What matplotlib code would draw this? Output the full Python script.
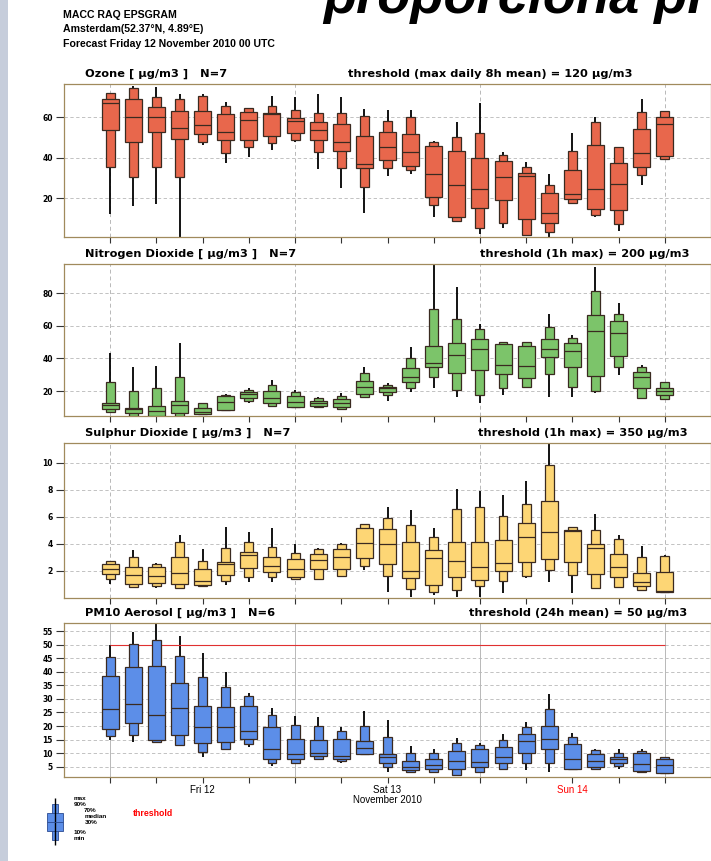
import matplotlib
matplotlib.use('Agg')
import matplotlib.pyplot as plt
from matplotlib.patches import Rectangle
import numpy as np

W, H = 711, 861

# forecast lead time in hours (3-hourly from Fri 12 Nov 2010 00 UTC)
hours = np.arange(0, 73, 3)
day_starts = [0, 24, 48, 72]
day_mid = [12, 36, 60]
day_labels = ['Fri 12', 'Sat 13', 'Sun 14']
day_colors = ['black', 'black', 'red']

# ---- Ozone -----------------------------------------------------------
o3_max = [71.7, 75.3, 74.6, 71.2, 71.2, 67.6, 64.6, 70.4, 69.7, 71.2, 69.7, 64.0, 63.5,
          63.5, 48.1, 57.7, 67.1, 42.9, 37.9, 31.7, 51.9, 60.2, 45.0, 68.7, 63.1]
o3_p90 = [71.7, 74.5, 70.0, 68.7, 70.4, 65.6, 64.6, 65.6, 63.5, 62.1, 61.8, 60.7, 58.0,
          59.8, 47.8, 50.3, 51.9, 41.2, 35.5, 26.7, 43.4, 57.4, 45.0, 62.6, 63.1]
o3_p70 = [68.7, 68.7, 65.1, 63.1, 63.1, 61.3, 62.6, 61.8, 59.3, 57.7, 56.4, 50.6, 52.8,
          51.6, 45.7, 43.4, 39.6, 38.4, 32.5, 22.6, 33.8, 46.2, 37.4, 54.1, 60.2]
o3_med = [66.7, 59.8, 59.8, 54.4, 56.0, 52.4, 58.5, 61.3, 58.0, 53.6, 47.5, 36.8, 45.4,
          42.9, 31.9, 26.7, 24.4, 30.5, 31.0, 12.4, 21.8, 24.4, 27.2, 42.1, 56.4]
o3_p30 = [53.6, 47.5, 52.8, 49.0, 51.6, 48.6, 48.5, 50.6, 52.3, 48.6, 43.4, 34.7, 38.8,
          35.8, 20.7, 10.8, 14.9, 19.0, 9.5, 7.5, 19.5, 14.4, 14.1, 35.5, 40.7]
o3_p10 = [35.1, 30.2, 35.5, 30.2, 47.8, 42.4, 45.0, 47.0, 48.5, 42.9, 34.7, 25.6, 35.0,
          33.8, 16.5, 8.8, 5.3, 7.5, 1.7, 3.4, 17.4, 11.9, 7.0, 31.4, 39.1]
o3_min = [12.1, 16.2, 17.0, 1.0, 46.2, 37.4, 40.1, 43.7, 47.8, 34.2, 25.1, 12.4, 30.9,
          31.7, 10.8, 8.8, 2.5, 5.0, 1.4, 0.9, 16.9, 10.5, 3.9, 26.7, 39.1]

# ---- Nitrogen dioxide ------------------------------------------------
no2_max = [43.2, 34.6, 35.6, 49.7, 12.6, 18.3, 21.7, 26.8, 20.7, 16.6, 18.7, 35.0, 25.2,
           46.9, 98.0, 83.7, 61.2, 50.3, 50.3, 67.3, 54.4, 96.0, 74.3, 36.0, 25.8]
no2_p90 = [25.4, 20.1, 22.1, 28.5, 12.6, 17.7, 20.7, 23.7, 19.6, 15.5, 17.0, 30.9, 23.7,
           40.1, 70.2, 64.3, 57.9, 50.3, 50.3, 59.6, 52.4, 81.4, 67.3, 35.0, 25.8]
no2_p70 = [12.5, 9.9, 11.1, 14.0, 9.9, 16.7, 19.6, 20.1, 17.2, 14.0, 15.0, 26.4, 22.3,
           34.0, 47.9, 49.7, 52.0, 48.7, 47.9, 51.8, 49.3, 66.7, 63.2, 31.9, 22.1]
no2_med = [11.5, 8.8, 7.9, 11.5, 7.4, 13.6, 18.0, 15.5, 13.1, 12.5, 12.5, 22.8, 22.1,
           28.9, 37.1, 42.2, 45.6, 36.0, 35.4, 45.8, 44.6, 56.9, 55.5, 28.9, 20.1]
no2_p30 = [8.8, 6.4, 4.9, 6.4, 5.8, 8.5, 15.5, 12.5, 10.5, 11.1, 10.1, 18.0, 19.6,
           25.4, 35.0, 30.9, 33.0, 30.3, 28.3, 41.1, 35.0, 29.3, 41.6, 21.7, 17.7]
no2_p10 = [7.4, 4.9, 4.9, 4.9, 5.8, 8.1, 14.1, 11.1, 10.1, 10.1, 9.0, 16.2, 17.7,
           22.1, 28.5, 20.8, 17.7, 22.1, 22.8, 30.3, 22.8, 20.1, 35.0, 16.0, 15.3]
no2_min = [7.4, 4.9, 4.9, 4.9, 5.3, 8.1, 12.5, 11.1, 10.1, 9.4, 9.0, 16.2, 14.1,
           19.6, 22.1, 16.1, 12.5, 17.6, 22.8, 16.6, 16.1, 19.0, 29.9, 16.0, 15.3]

# ---- Sulphur dioxide -------------------------------------------------
so2_max = [2.77, 3.56, 2.62, 4.62, 3.63, 5.21, 4.86, 5.16, 3.98, 3.68, 4.05, 5.46, 6.72,
           6.47, 5.16, 8.05, 7.93, 7.63, 8.62, 11.4, 5.28, 6.20, 4.62, 3.85, 3.19]
so2_p90 = [2.70, 3.00, 2.52, 4.12, 2.77, 3.68, 4.10, 3.75, 3.36, 3.63, 3.98, 5.46, 5.90,
           5.36, 4.49, 6.59, 6.72, 6.07, 6.96, 9.80, 5.23, 4.99, 4.35, 3.01, 3.11]
so2_p70 = [2.50, 2.32, 2.32, 3.01, 2.15, 2.69, 3.38, 3.06, 2.86, 3.23, 3.60, 5.16, 5.09,
           4.17, 3.56, 4.17, 4.17, 4.30, 5.53, 7.14, 5.04, 4.00, 3.26, 1.83, 1.90]
so2_med = [2.15, 1.70, 1.65, 1.83, 1.26, 2.52, 3.19, 2.40, 2.12, 2.81, 3.01, 4.05, 4.00,
           2.02, 2.94, 2.74, 2.32, 2.62, 4.47, 4.84, 4.96, 3.68, 2.32, 1.16, 0.54]
so2_p30 = [1.78, 1.01, 1.09, 1.01, 0.96, 1.70, 2.20, 1.90, 1.58, 2.12, 2.12, 2.94, 2.49,
           1.46, 0.96, 1.58, 1.33, 2.02, 2.69, 2.89, 2.69, 1.78, 1.53, 0.89, 0.47]
so2_p10 = [1.38, 0.84, 0.91, 0.72, 0.91, 1.26, 1.58, 1.58, 1.41, 1.41, 1.65, 2.37, 1.63,
           0.67, 0.47, 0.59, 0.91, 1.26, 1.63, 2.07, 1.70, 0.72, 0.84, 0.59, 0.47]
so2_min = [1.04, 0.84, 0.77, 0.72, 0.91, 0.96, 1.16, 1.21, 1.33, 1.33, 1.53, 2.07, 0.47,
           0.10, 0.22, 0.10, 0.10, 0.35, 1.46, 1.16, 0.35, 0.72, 0.84, 0.59, 0.47]

# ---- PM10 ------------------------------------------------------------
pm_max = [49.75, 54.7, 57.8, 53.3, 46.9, 39.9, 32.3, 26.5, 23.7, 23.5, 19.8, 25.6, 22.2,
          12.6, 11.7, 15.7, 13.6, 17.0, 21.6, 31.7, 17.5, 11.7, 11.7, 11.4, 8.6]
pm_p90 = [45.3, 50.4, 51.9, 45.7, 37.9, 34.3, 31.1, 24.1, 20.4, 20.0, 18.3, 20.1, 16.0,
          9.9, 9.9, 13.8, 13.0, 14.8, 19.8, 26.3, 16.0, 11.1, 9.9, 10.7, 8.6]
pm_p70 = [38.6, 41.7, 42.3, 35.8, 27.5, 27.2, 27.5, 19.5, 15.1, 14.8, 15.2, 14.4, 9.6,
          7.2, 7.8, 10.9, 11.4, 12.3, 16.9, 20.1, 13.3, 9.6, 8.6, 9.9, 7.7]
pm_med = [26.3, 28.1, 24.1, 26.5, 19.5, 19.5, 18.1, 11.7, 9.6, 10.2, 9.0, 12.0, 8.6,
          4.9, 5.6, 7.2, 6.8, 8.6, 14.4, 15.1, 7.8, 7.2, 7.8, 5.9, 5.8]
pm_p30 = [18.8, 21.0, 14.8, 16.7, 13.8, 14.0, 15.1, 8.0, 7.7, 8.9, 8.0, 9.5, 6.5,
          3.7, 4.0, 4.0, 4.9, 6.2, 9.9, 11.4, 4.1, 4.9, 6.4, 3.3, 2.5]
pm_p10 = [16.3, 16.7, 14.2, 13.0, 10.5, 11.7, 13.3, 6.2, 6.2, 7.7, 7.2, 9.5, 4.9,
          3.1, 3.1, 2.1, 3.1, 4.3, 6.4, 6.4, 4.1, 4.3, 5.3, 3.1, 2.5]
pm_min = [14.8, 14.0, 14.2, 12.6, 8.6, 11.1, 12.3, 5.3, 6.2, 7.7, 6.5, 9.5, 3.1,
          3.1, 3.1, 1.5, 2.5, 3.7, 3.7, 3.1, 4.1, 4.3, 4.3, 3.1, 2.5]
pm_threshold = 50

EDGE = '#3a2a20'
FRAME = '#a08a5c'
WIDE = 2.2     # hours, 30-70% box
NARROW = 1.15  # hours, 10-90% box
BOLD = 'DejaVu Sans'
PLAIN = 'Liberation Sans'


def px(x, y):
    return x / W, 1 - y / H


def draw_boxes(ax, x, vmin, p10, p30, med, p70, p90, vmax, color):
    vmin, p10, p30, med, p70, p90, vmax = map(np.asarray, (vmin, p10, p30, med, p70, p90, vmax))
    ax.vlines(x, vmin, vmax, color='black', lw=1.3, zorder=2)
    ax.bar(x, p90 - p10, bottom=p10, width=NARROW, color=color, edgecolor=EDGE, lw=0.9, zorder=3)
    ax.bar(x, p70 - p30, bottom=p30, width=WIDE, color=color, edgecolor=EDGE, lw=0.9, zorder=4)
    ax.hlines(med, x - WIDE / 2, x + WIDE / 2, color=EDGE, lw=0.9, zorder=5)


def setup_axes(ax, ylim, yticks, solid_vgrid=False):
    ax.set_xlim(-6, 78)
    ax.set_ylim(*ylim)
    ax.set_yticks(yticks)
    ax.set_yticklabels([str(t) for t in yticks], fontsize=5.5, fontweight='bold', family=BOLD)
    ax.set_xticks(np.arange(0, 73, 6))
    ax.set_xticklabels([])
    ax.tick_params(axis='y', direction='out', length=6, width=0.8, pad=2, color='#333333')
    ax.tick_params(axis='x', direction='out', length=4, width=0.8, color='#333333')
    ax.yaxis.grid(True, ls=(0, (4, 3)), color='#b8b8b8', lw=0.6)
    ax.set_axisbelow(True)
    for d in day_starts:
        ax.axvline(d, color='#b8b8b8', lw=0.7, ls='-' if solid_vgrid else (0, (4, 3)), zorder=1)
    for s in ax.spines.values():
        s.set_color(FRAME)
        s.set_linewidth(0.9)


fig = plt.figure(figsize=(W / 100, H / 100), dpi=100)
fig.patch.set_facecolor('white')

# slide background strip on the left edge
fig.patches.append(Rectangle((0, 0), 8 / W, 1, transform=fig.transFigure,
                             facecolor='#c6cddb', edgecolor='none', zorder=0))

# header
header = ['MACC RAQ EPSGRAM', 'Amsterdam(52.37°N, 4.89°E)',
          'Forecast Friday 12 November 2010 00 UTC']
for txt, y in zip(header, [15, 29, 44]):
    hx, hy = px(63, y)
    fig.text(hx, hy, txt, fontsize=7.6, fontweight='bold', va='center', family=PLAIN)
bx, by = px(323, 13)
fig.text(bx, by, 'proporciona pr', fontsize=39, fontweight='bold', style='italic',
         va='baseline', family=PLAIN)

panels = [
    dict(top=84, bot=237, stats=(o3_min, o3_p10, o3_p30, o3_med, o3_p70, o3_p90, o3_max),
         color='#e8674c', ylim=(0.8, 76.3), yticks=[20, 40, 60],
         left='Ozone [ µg/m3 ]   N=7', right='threshold (max daily 8h mean) = 120 µg/m3',
         right_x=633),
    dict(top=264, bot=416, stats=(no2_min, no2_p10, no2_p30, no2_med, no2_p70, no2_p90, no2_max),
         color='#7cc46a', ylim=(4.7, 98), yticks=[20, 40, 60, 80],
         left='Nitrogen Dioxide [ µg/m3 ]   N=7', right='threshold (1h max) = 200 µg/m3',
         right_x=690),
    dict(top=443, bot=598, stats=(so2_min, so2_p10, so2_p30, so2_med, so2_p70, so2_p90, so2_max),
         color='#fdd675', ylim=(0.0, 11.45), yticks=[2, 4, 6, 8, 10],
         left='Sulphur Dioxide [ µg/m3 ]   N=7', right='threshold (1h max) = 350 µg/m3',
         right_x=688),
    dict(top=623, bot=777, stats=(pm_min, pm_p10, pm_p30, pm_med, pm_p70, pm_p90, pm_max),
         color='#5c8ee8', ylim=(1.2, 58.0), yticks=list(range(5, 56, 5)),
         left='PM10 Aerosol [ µg/m3 ]   N=6', right='threshold (24h mean) = 50 µg/m3',
         right_x=687),
]

axes = []
for i, p in enumerate(panels):
    ax = fig.add_axes([64 / W, 1 - p['bot'] / H, (W - 64) / W, (p['bot'] - p['top']) / H])
    setup_axes(ax, p['ylim'], p['yticks'], solid_vgrid=(i == 3))
    draw_boxes(ax, hours, *p['stats'], color=p['color'])
    tx, ty = px(85, p['top'] - 10)
    fig.text(tx, ty, p['left'], fontsize=8.2, fontweight='bold', va='center', family=BOLD)
    tx, ty = px(p['right_x'], p['top'] - 10)
    fig.text(tx, ty, p['right'], fontsize=8.2, fontweight='bold', va='center', ha='right',
             family=BOLD)
    axes.append(ax)

ax = axes[-1]
ax.hlines(pm_threshold, hours[0], hours[-1], color='#e03030', lw=0.8, zorder=2)

# day labels under the last panel
for h, lbl, c in zip(day_mid, day_labels, day_colors):
    ax.annotate(lbl, xy=(h, 0), xycoords=('data', 'axes fraction'), xytext=(0, -13),
                textcoords='offset pixels', ha='center', va='center', fontsize=7, color=c,
                family=PLAIN)
ax.annotate('November 2010', xy=(day_mid[1], 0), xycoords=('data', 'axes fraction'),
            xytext=(0, -23), textcoords='offset pixels', ha='center', va='center',
            fontsize=7, family=PLAIN)

# key glyph
key = fig.add_axes([40 / W, 1 - 846 / H, 30 / W, 50 / H])
key.set_xlim(-1.5, 1.5)
key.set_ylim(0, 10)
key.axis('off')
key_vals = [0.3, 1.3, 3.0, 4.9, 6.6, 8.4, 9.7]
key.vlines(0, key_vals[0], key_vals[-1], color='black', lw=1.0)
key.bar(0, key_vals[5] - key_vals[1], bottom=key_vals[1], width=0.6, color='#5c8ee8',
        edgecolor='#2a4a90', lw=0.6)
key.bar(0, key_vals[4] - key_vals[2], bottom=key_vals[2], width=1.6, color='#5c8ee8',
        edgecolor='#2a4a90', lw=0.6)
key.hlines(key_vals[3], -0.8, 0.8, color='#2a4a90', lw=0.6)

key_labels = [('max', 74, 798), ('90%', 74, 804), ('70%', 84, 811), ('median', 85, 817),
              ('30%', 85, 823), ('10%', 74, 832), ('min', 74, 839)]
for lbl, x, y in key_labels:
    kx, ky = px(x, y)
    fig.text(kx, ky, lbl, fontsize=4.6, fontweight='bold', va='center', family=PLAIN)
kx, ky = px(133, 813)
fig.text(kx, ky, 'threshold', fontsize=6.3, fontweight='bold', color='red', va='center',
         family=PLAIN)

fig.savefig('out.png', dpi=100)
